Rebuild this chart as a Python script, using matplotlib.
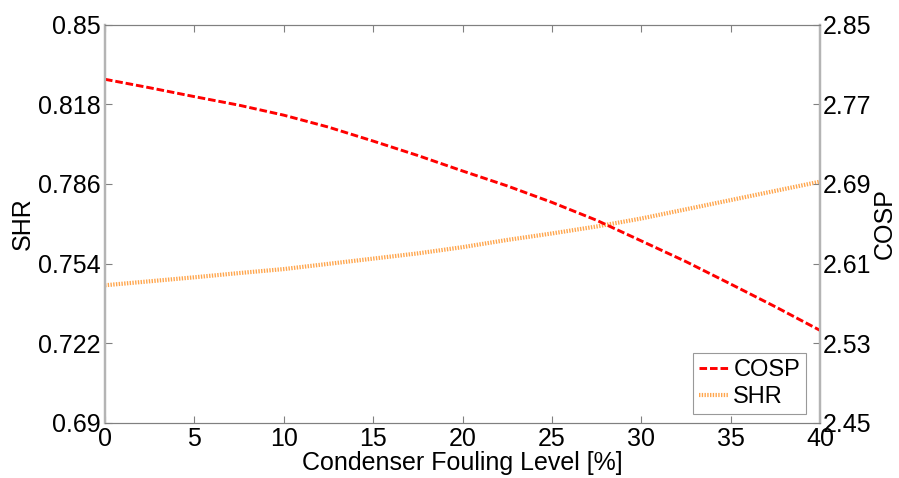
import matplotlib
matplotlib.use("Agg")
import matplotlib.pyplot as plt

plt.rcParams['font.family'] = ['Liberation Sans', 'DejaVu Sans']

# Condenser fouling level [%]
fouling = [0, 2.5, 5, 7.5, 10, 12.5, 15, 17.5, 20,
           22.5, 25, 27.5, 30, 32.5, 35, 37.5, 40]
# Coefficient of performance (right axis)
cosp = [2.795, 2.7865, 2.7776, 2.769, 2.759, 2.747, 2.733, 2.7185, 2.703,
        2.688, 2.6715, 2.6535, 2.6328, 2.612, 2.5895, 2.5667, 2.543]
# Sensible heat ratio (left axis)
shr = [0.7453, 0.7469, 0.7485, 0.7502, 0.7518, 0.7539, 0.756, 0.7581, 0.7606,
       0.7635, 0.7661, 0.7689, 0.7721, 0.7758, 0.7795, 0.7832, 0.7869]

shr_ticks = [0.69, 0.722, 0.754, 0.786, 0.818, 0.85]
cosp_ticks = [2.45, 2.53, 2.61, 2.69, 2.77, 2.85]
x_ticks = [0, 5, 10, 15, 20, 25, 30, 35, 40]

fig = plt.figure(figsize=(8.99, 4.78), dpi=100)
ax1 = fig.add_axes([105/899, 1-423/478, 715/899, 398.5/478])
ax2 = ax1.twinx()

fs = 18
dark = '#808080'
light = '#b4b4b4'

l_shr, = ax1.plot(fouling, shr, color='#FFA64D', lw=3.0,
                  linestyle=(0, (0.33, 0.33)), label='SHR')
l_cosp, = ax2.plot(fouling, cosp, color='#FF0000', lw=2.1,
                   linestyle=(0, (2.6, 1.0)), label='COSP')

ax1.set_xlim(0, 40)
ax1.set_ylim(0.69, 0.85)
ax2.set_ylim(2.45, 2.85)
ax1.set_xticks(x_ticks)
ax1.set_yticks(shr_ticks)
ax1.set_yticklabels([f"{v:g}" for v in shr_ticks])
ax2.set_yticks(cosp_ticks)
ax2.set_yticklabels([f"{v:g}" for v in cosp_ticks])

for ax in (ax1, ax2):
    ax.spines['top'].set_color(dark)
    ax.spines['bottom'].set_color(dark)
    ax.spines['top'].set_linewidth(0.8)
    ax.spines['bottom'].set_linewidth(0.8)
    ax.spines['left'].set_color(light)
    ax.spines['right'].set_color(light)
    ax.spines['left'].set_linewidth(1.6)
    ax.spines['right'].set_linewidth(1.6)

ax1.tick_params(axis='x', direction='in', length=5, color=dark, width=0.8,
                top=True, labelsize=fs, pad=3)
ax1.tick_params(axis='y', direction='in', length=5, color=dark, width=0.8,
                labelsize=fs, pad=3)
ax2.tick_params(axis='y', direction='in', length=5, color=dark, width=0.8,
                labelsize=fs, pad=2)

ax1.set_xlabel('Condenser Fouling Level [%]', fontsize=fs, labelpad=0)
ax1.set_ylabel('SHR', fontsize=fs, labelpad=2)
ax2.set_ylabel('COSP', fontsize=fs, labelpad=1)

leg = ax2.legend([l_cosp, l_shr], ['COSP', 'SHR'], loc='lower right',
                 bbox_to_anchor=(0.9804, 0.0226), borderaxespad=0,
                 fontsize=17, frameon=True, fancybox=False,
                 handlelength=1.3, handletextpad=0.17, labelspacing=0.2,
                 borderpad=0.25)
leg.get_frame().set_edgecolor(dark)
leg.get_frame().set_linewidth(0.8)

fig.savefig('out.png', dpi=100)
